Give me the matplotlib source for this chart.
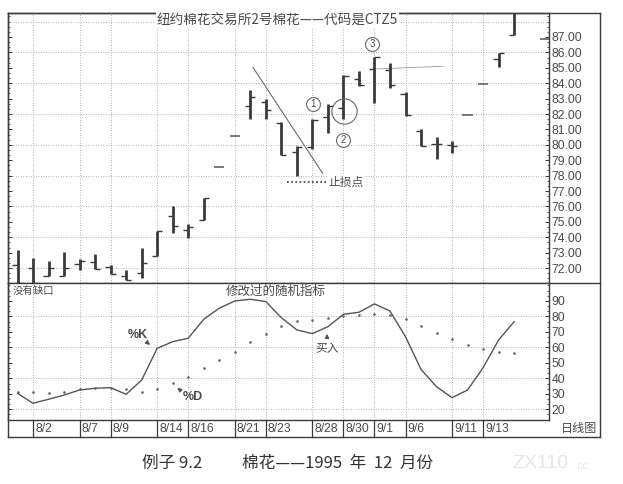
import numpy as np
import matplotlib
matplotlib.use('Agg')
import matplotlib.pyplot as plt
from matplotlib.transforms import blended_transform_factory, offset_copy
from matplotlib.ticker import MultipleLocator, FixedLocator

# ---------------- data ----------------
dates = ['8/1', '8/2', '8/3', '8/4', '8/7', '8/8', '8/9', '8/10', '8/11', '8/14',
         '8/15', '8/16', '8/17', '8/18', '8/21', '8/22', '8/23', '8/24', '8/25', '8/28',
         '8/29', '8/30', '8/31', '9/1', '9/5', '9/6', '9/7', '9/8', '9/11', '9/12',
         '9/13', '9/14', '9/15', '9/18', '9/19']
nan = np.nan
opens = [72.2, 72.0, 71.5, 71.5, 72.25, 72.4, 72.05, 71.5, 71.7, 72.8,
         75.35, 74.45, 75.1, 78.55, 80.6, 82.55, 82.8, 81.4, 79.55, 79.85,
         81.8, 82.4, 84.25, 84.95, 84.85, 83.3, 80.9, 80.05, 80.0, 81.95,
         83.95, 85.55, 87.1, nan, 86.9]
highs = [73.15, 72.65, 72.45, 73.05, 72.6, 72.9, 72.2, 71.9, 73.3, 74.4,
         76.05, 74.85, 76.55, 78.55, 80.6, 83.55, 83.0, 81.45, 79.9, 81.7,
         82.65, 84.55, 84.8, 85.7, 85.3, 83.4, 81.0, 80.5, 80.25, 81.95,
         83.95, 85.95, 89.0, nan, 86.9]
lows = [70.9, 70.9, 71.5, 71.5, 71.85, 71.95, 71.6, 71.2, 71.35, 72.8,
        74.25, 73.95, 75.1, 78.55, 80.6, 81.7, 81.7, 79.35, 77.95, 79.75,
        80.75, 81.65, 83.8, 82.7, 83.7, 81.9, 79.95, 79.1, 79.5, 81.95,
        83.95, 85.05, 87.1, nan, 86.9]
closes = [71.0, 71.0, 72.0, 72.0, 72.45, 71.95, 71.6, 71.2, 72.35, 74.4,
          74.75, 74.65, 76.55, 78.55, 80.6, 83.1, 82.25, 79.35, 79.85, 81.6,
          82.55, 84.5, 83.9, 85.7, 83.9, 81.95, 79.95, 80.05, 79.95, 81.95,
          83.95, 85.95, 89.0, nan, 86.9]
k_line = [30.3, 23.9, 26.5, 29.2, 32.5, 33.6, 34.0, 29.7, 38.9, 59.4,
          63.7, 65.9, 78.2, 85.3, 90.0, 91.1, 89.6, 79.2, 71.3, 68.9,
          73.4, 81.4, 82.7, 88.1, 83.5, 66.9, 45.8, 34.6, 27.5, 32.5,
          46.9, 64.8, 76.6]
d_line = [31.2, 31.1, 30.4, 31.1, 32.9, 33.7, 33.9, 33.2, 31.5, 33.4,
          36.9, 41.0, 46.4, 51.8, 57.1, 63.3, 68.9, 73.7, 77.0, 77.8,
          79.0, 80.6, 81.0, 81.4, 81.0, 78.2, 73.8, 69.1, 65.2, 61.6,
          58.8, 57.2, 56.6]
tick_dates = ['8/2', '8/7', '8/9', '8/14', '8/16', '8/21', '8/23', '8/28',
              '8/30', '9/1', '9/6', '9/11', '9/13']
price_ticks = [72, 73, 74, 75, 76, 77, 78, 79, 80, 81, 82, 83, 84, 85, 86, 87]
price_grid = [72, 74, 76, 78, 80, 82, 84, 86, 88]
stoch_ticks = [20, 30, 40, 50, 60, 70, 80, 90]
stoch_grid = [20, 40, 60, 80]

title = '纽约棉花交易所2号棉花——代码是CTZ5'
caption_a = '例子 9.2'
caption_b = '棉花——1995  年  12  月份'

CJK = ['Noto Sans CJK SC', 'DejaVu Sans']
NUM = ['Liberation Sans', 'DejaVu Sans']
FG = '#3a3a3a'
GRID = '#9a9a9a'
TXT = '#4a4a4a'

W, H = 623, 484
fig = plt.figure(figsize=(W / 100, H / 100), dpi=100)
fig.patch.set_facecolor('white')

def fr(x0, y0, x1, y1):
    return [x0 / W, 1 - y1 / H, (x1 - x0) / W, (y1 - y0) / H]

ax = fig.add_axes(fr(8, 12.5, 549, 283))
axl = fig.add_axes(fr(8, 283, 549, 420))
ov = fig.add_axes([0, 0, 1, 1], zorder=10)
ov.set_xlim(0, W)
ov.set_ylim(H, 0)
ov.axis('off')
ov.patch.set_alpha(0)

n = len(dates)
xs = np.arange(n)
xlim = ((8 - 17.5) / 15.52, (549 - 17.5) / 15.52)
tick_pos = [dates.index(d) for d in tick_dates]

for a in (ax, axl):
    a.set_xlim(*xlim)
    a.set_xticks(tick_pos)
    a.tick_params(axis='x', length=0, labelbottom=False)
    a.xaxis.grid(True, color=GRID, lw=0.6, ls=(0, (1, 2)))
    for s in a.spines.values():
        s.set_color(FG)
        s.set_linewidth(1.0)
    a.yaxis.tick_right()
    a.tick_params(axis='y', which='both', direction='in', left=True, right=True,
                  labelleft=False, labelright=True, colors=FG, labelcolor=TXT,
                  labelsize=8.7, pad=2)
    a.tick_params(axis='y', which='major', length=3, width=0.7)
    a.tick_params(axis='y', which='minor', length=1.5, width=0.6)

# -------- upper price panel --------
ax.set_ylim(71.03, 88.59)
ax.yaxis.set_major_locator(FixedLocator(price_ticks))
ax.yaxis.set_minor_locator(MultipleLocator(1 / 3))
ax.set_yticklabels(['%.2f' % v for v in price_ticks], family=NUM)
for g in price_grid:
    ax.axhline(g, color=GRID, lw=0.6, ls=(0, (1, 2)), zorder=0)

hw = 0.33
for i in range(n):
    o, h, l, c = opens[i], highs[i], lows[i], closes[i]
    if np.isnan(o):
        continue
    if h == l:
        ax.plot([i - hw, i + hw], [o, o], color='#555555', lw=1.1, solid_capstyle='butt', zorder=3)
        continue
    ax.plot([i, i], [l, h], color=FG, lw=2.0, solid_capstyle='butt', zorder=3)
    ax.plot([i - hw, i], [o, o], color=FG, lw=1.0, solid_capstyle='butt', zorder=3)
    ax.plot([i, i + hw], [c, c], color=FG, lw=1.0, solid_capstyle='butt', zorder=3)

# annotations on price panel
ax.plot([15.19, 19.66], [85.0, 78.15], color='#6a6a6a', lw=0.8, zorder=4)
ax.plot([23.0, 27.4], [84.92, 85.1], color='#9a9a9a', lw=0.6, zorder=2)
ax.plot([17.37, 19.95], [77.6, 77.6], color='#555555', lw=1.3, ls=(0, (1, 1.3)), zorder=4)
ax.text(20.0, 77.6, '止损点', family=CJK, fontsize=8.5, color=TXT, va='center', ha='left',
        zorder=5, bbox=dict(facecolor='white', edgecolor='none', pad=0.3))
ax.scatter([21.07], [82.16], s=330, facecolors='none', edgecolors='#6a6a6a', linewidths=0.8, zorder=5)
for (cx, cy, lab) in [(19.04, 82.65, '1'), (20.97, 80.31, '2'), (22.84, 86.55, '3')]:
    ax.scatter([cx], [cy], s=100, facecolors='white', edgecolors='#6a6a6a', linewidths=0.8, zorder=6)
    ax.text(cx, cy, lab, family=NUM, fontsize=7, color=TXT, ha='center', va='center', zorder=7)

ov.text(277.5, 20, title, family=CJK, fontsize=9.8, color=TXT, ha='center', va='center',
        bbox=dict(facecolor='white', edgecolor='none', pad=0.5))

# -------- lower stochastic panel --------
axl.set_ylim(13.1, 101.6)
axl.yaxis.set_major_locator(FixedLocator(stoch_ticks))
axl.yaxis.set_minor_locator(MultipleLocator(10 / 3))
axl.set_yticklabels([str(v) for v in stoch_ticks], family=NUM)
for g in stoch_grid:
    axl.axhline(g, color=GRID, lw=0.6, ls=(0, (1, 2)), zorder=0)
axl.plot(xs[:len(k_line)], k_line, color='#555555', lw=1.0, zorder=3)
axl.scatter(xs[:len(d_line)], d_line, s=3.5, color='#606060', zorder=3, linewidths=0)

ov.text(13, 291, '没有缺口', family=CJK, fontsize=7.5, color=TXT, ha='left', va='center')
ov.text(276, 291, '修改过的随机指标', family=CJK, fontsize=9, color=TXT, ha='center', va='center')
ov.text(137.5, 334.5, '%K', family=NUM, fontsize=9, weight='bold', color=TXT, ha='center', va='center')
ov.annotate('', xy=(152, 347), xytext=(145.5, 341),
            arrowprops=dict(arrowstyle='-|>', color='#555555', lw=0.9, mutation_scale=6))
ov.text(193, 397, '%D', family=NUM, fontsize=9, weight='bold', color=TXT, ha='center', va='center')
ov.annotate('', xy=(175, 386), xytext=(183, 392.5),
            arrowprops=dict(arrowstyle='-|>', color='#555555', lw=0.9, mutation_scale=6))
ov.text(327, 349, '买入', family=CJK, fontsize=8.5, color=TXT, ha='center', va='center')
ov.annotate('', xy=(327, 331), xytext=(327, 341),
            arrowprops=dict(arrowstyle='-|>', color='#555555', lw=0.9, mutation_scale=6))

# -------- frame and date row --------
for seg in [((8, 600), (12.5, 12.5)), ((600, 600), (12.5, 437)), ((8, 600), (437, 437)),
            ((8, 8), (12.5, 437)), ((549, 600), (283, 283))]:
    ov.plot(seg[0], seg[1], color=FG, lw=1.0)
trans = blended_transform_factory(axl.transData, ov.transData)
ttrans = offset_copy(trans, fig=fig, x=2, y=0, units='dots')
for p, lab in zip(tick_pos, tick_dates):
    ov.plot([p, p], [420, 437], color=FG, lw=0.9, transform=trans)
    ov.text(p, 428.5, lab, family=NUM, fontsize=8.7, color=TXT, ha='left', va='center', transform=ttrans)
ov.text(597, 428.5, '日线图', family=CJK, fontsize=8.7, color=TXT, ha='right', va='center')

# -------- caption --------
ov.text(142, 463, caption_a, family=CJK, fontsize=12, color='#333333', ha='left', va='center')
ov.text(242, 463, caption_b, family=CJK, fontsize=12, color='#333333', ha='left', va='center')
ov.text(512, 463, 'ZX110', family=NUM, fontsize=14, color='#e6e6e6', ha='left', va='center')
ov.text(575, 466, '.cc', family=NUM, fontsize=7, color='#e6e6e6', ha='left', va='center')

fig.savefig('out.png', dpi=100, facecolor='white')
